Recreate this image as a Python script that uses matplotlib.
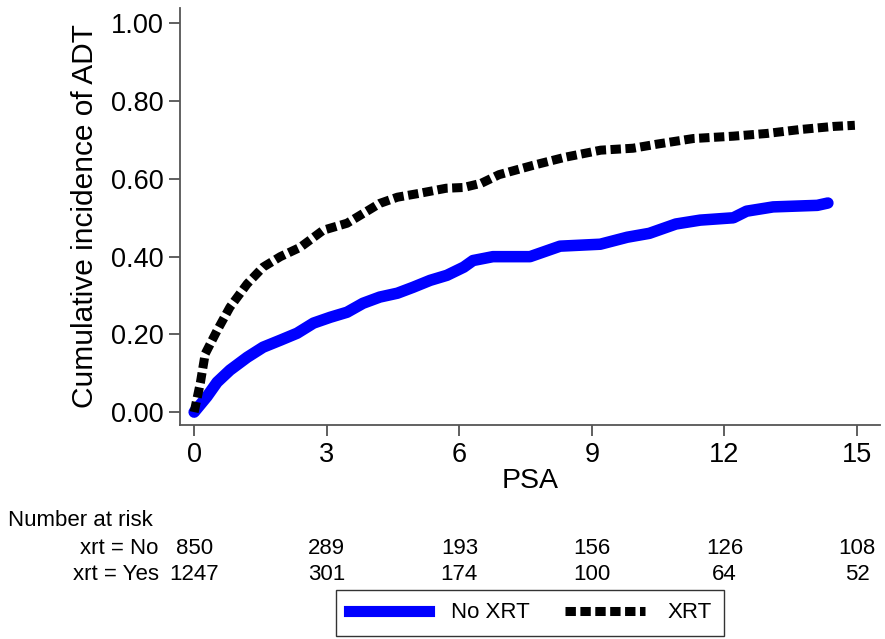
#!/usr/bin/env python3
"""Cumulative incidence of ADT by PSA, with number-at-risk table."""

import matplotlib

matplotlib.use("Agg")
import matplotlib.pyplot as plt
from matplotlib.lines import Line2D
from matplotlib.transforms import blended_transform_factory

plt.rcParams["font.family"] = ["Liberation Sans", "DejaVu Sans"]

# curve estimates
psa_no = [0.0, 0.29, 0.52, 0.81, 1.2, 1.56, 1.95, 2.33, 2.7, 3.08, 3.46, 3.82,
          4.2, 4.6, 4.95, 5.34, 5.72, 6.1, 6.31, 6.76, 7.6, 8.28, 9.19, 9.8,
          10.3, 10.9, 11.45, 12.2, 12.5, 13.1, 14.1, 14.34]
cif_no = [0.0, 0.04, 0.077, 0.108, 0.141, 0.167, 0.185, 0.203, 0.229, 0.244,
          0.257, 0.28, 0.296, 0.306, 0.321, 0.339, 0.352, 0.373, 0.39, 0.40,
          0.40, 0.427, 0.432, 0.45, 0.46, 0.484, 0.494, 0.50, 0.517, 0.528,
          0.532, 0.538]

psa_xrt = [0.0, 0.14, 0.25, 0.52, 0.81, 1.2, 1.56, 1.95, 2.4, 2.92, 3.46, 4.2,
           4.6, 5.1, 5.7, 6.1, 6.5, 6.9, 7.67, 8.4, 9.2, 9.93, 10.5, 11.3,
           12.2, 12.96, 13.7, 14.46, 14.95]
cif_xrt = [0.0, 0.075, 0.15, 0.21, 0.27, 0.33, 0.373, 0.40, 0.424, 0.468,
           0.486, 0.537, 0.553, 0.563, 0.576, 0.578, 0.589, 0.611, 0.635,
           0.656, 0.674, 0.679, 0.69, 0.704, 0.71, 0.717, 0.727, 0.735, 0.738]

risk_times = [0, 3, 6, 9, 12, 15]
risk_no = [850, 289, 193, 156, 126, 108]
risk_yes = [1247, 301, 174, 100, 64, 52]

y_ticks = [0.0, 0.2, 0.4, 0.6, 0.8, 1.0]
x_ticks = [0, 3, 6, 9, 12, 15]

XRT_DASH = (0, (1.15, 0.5))

fig = plt.figure(figsize=(8.85, 6.39), dpi=100)
ax = fig.add_axes([0.2034, 0.335, 0.791, 0.6526])

ax.plot(psa_no, cif_no, color="#0000ff", linewidth=8.3,
        solid_capstyle="round", solid_joinstyle="round")
ax.plot(psa_xrt, cif_xrt, color="black", linewidth=6.5,
        linestyle=XRT_DASH, dash_capstyle="butt")

ax.set_xlim(-0.32, 15.52)
ax.set_ylim(-0.033, 1.04)
ax.set_xticks(x_ticks)
ax.set_yticks(y_ticks)
ax.set_yticklabels(["{:.2f}".format(v) for v in y_ticks])
ax.tick_params(axis="both", direction="out", length=8, width=1.2,
               color="#444444", labelsize=19.5, pad=4)
for side in ("top", "right"):
    ax.spines[side].set_visible(False)
for side in ("left", "bottom"):
    ax.spines[side].set_color("#555555")
    ax.spines[side].set_linewidth(1.3)

ax.set_xlabel("PSA", fontsize=20.5, labelpad=0)
ax.set_ylabel("Cumulative incidence of ADT", fontsize=21.5, labelpad=8)

# number at risk table
narrow = ["Liberation Sans Narrow", "Liberation Sans", "DejaVu Sans"]
trans = blended_transform_factory(ax.transData, fig.transFigure)
fig.text(8 / 885, 1 - 521 / 639, "Number at risk", fontsize=16,
         family=narrow, va="center", ha="left")
rows = [("xrt = No", risk_no, 1 - 548 / 639), ("xrt = Yes", risk_yes, 1 - 574 / 639)]
for label, counts, ypos in rows:
    ax.text(-0.8, ypos, label, transform=trans, fontsize=16,
            family=narrow, ha="right", va="center", clip_on=False)
    for t, n in zip(risk_times, counts):
        ax.text(t, ypos, str(n), transform=trans, fontsize=16,
                family=narrow, ha="center", va="center", clip_on=False)

handles = [
    Line2D([], [], color="#0000ff", linewidth=8),
    Line2D([], [], color="black", linewidth=6.5, linestyle=XRT_DASH),
]
leg = fig.legend(handles, ["No XRT", "XRT"], loc="center",
                 bbox_to_anchor=(530 / 885, 1 - 613 / 639), ncol=2,
                 frameon=True, fancybox=False, handlelength=3.6,
                 columnspacing=1.6, handletextpad=1.0, borderpad=0.55,
                 borderaxespad=0,
                 prop={"family": narrow, "size": 16})
leg.get_frame().set_edgecolor("black")
leg.get_frame().set_linewidth(1.0)

fig.savefig("out.png", dpi=100)
